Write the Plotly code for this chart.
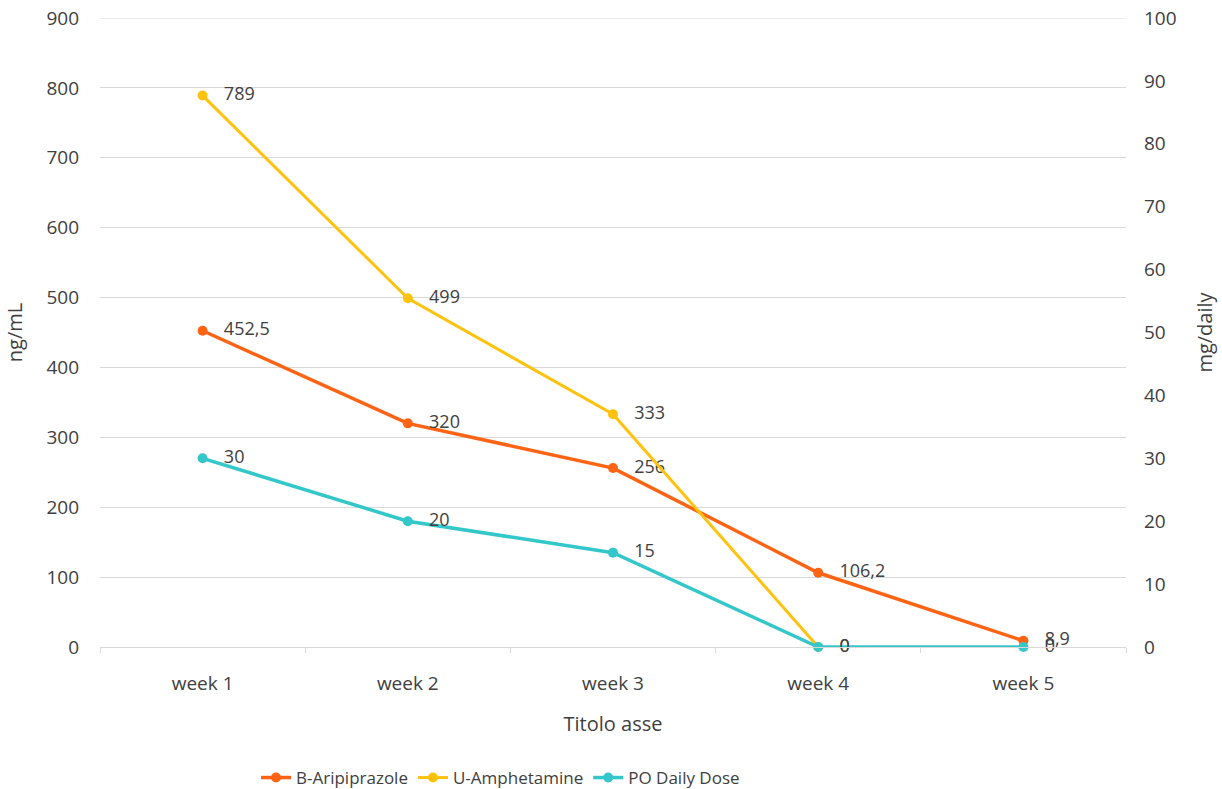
import plotly.graph_objects as go

weeks = ["week 1", "week 2", "week 3", "week 4", "week 5"]
aripiprazole = [452.5, 320, 256, 106.2, 8.9]
aripiprazole_labels = ["452,5", "320", "256", "106,2", "8,9"]
amphetamine = [789, 499, 333, 0, None]
amphetamine_labels = ["789", "499", "333", "0", ""]
po_dose = [30, 20, 15, 0, 0]
po_dose_labels = ["30", "20", "15", "0", "0"]

left_ticks = list(range(0, 901, 100))
right_ticks = list(range(0, 101, 10))

FONT = "Open Sans"
TXT = "#404040"
GRID = "#D9D9D9"
PAD = "\u00a0\u00a0\u00a0"


def pad(labels):
    return [PAD + t if t else t for t in labels]


fig = go.Figure()
fig.add_trace(go.Scatter(
    x=weeks, y=aripiprazole, name="B-Aripiprazole", mode="lines+markers+text",
    text=pad(aripiprazole_labels), textposition="middle right",
    textfont=dict(family=FONT, size=18, color=TXT),
    line=dict(color="#FF6414", width=3.5), marker=dict(size=10, color="#FF6414"),
    yaxis="y", cliponaxis=False))
fig.add_trace(go.Scatter(
    x=weeks, y=amphetamine, name="U-Amphetamine", mode="lines+markers+text",
    text=pad(amphetamine_labels), textposition="middle right",
    textfont=dict(family=FONT, size=18, color=TXT),
    line=dict(color="#FFC20E", width=3), marker=dict(size=10, color="#FFC20E"),
    yaxis="y", cliponaxis=False))
fig.add_trace(go.Scatter(
    x=weeks, y=po_dose, name="PO Daily Dose", mode="lines+markers+text",
    text=pad(po_dose_labels), textposition="middle right",
    textfont=dict(family=FONT, size=18, color=TXT),
    line=dict(color="#33C7C9", width=3.5), marker=dict(size=10, color="#33C7C9"),
    yaxis="y2", cliponaxis=False))

# top gridline (Plotly omits gridlines at the range ends)
fig.add_shape(type="line", xref="paper", x0=0, x1=1, yref="y",
              y0=left_ticks[-1], y1=left_ticks[-1],
              line=dict(color=GRID, width=1), layer="below")

fig.update_layout(
    width=1222, height=789,
    margin=dict(l=100, r=96, t=18, b=142),
    paper_bgcolor="white", plot_bgcolor="white",
    font=dict(family=FONT, size=16, color=TXT),
    showlegend=True,
    legend=dict(orientation="h", x=256 / 1222, xanchor="left", xref="container",
                y=1 - 778 / 789, yanchor="middle", yref="container",
                font=dict(family=FONT, size=17, color=TXT),
                traceorder="normal"),
    xaxis=dict(type="category", categoryorder="array", categoryarray=weeks,
               showgrid=False, showline=True, linecolor=GRID, linewidth=1,
               ticks="outside", tickson="boundaries", ticklen=5, tickcolor=GRID,
               tickfont=dict(family=FONT, size=19, color=TXT), automargin=False,
               ticklabelstandoff=19,
               title=dict(text="Titolo asse", font=dict(family=FONT, size=20, color=TXT), standoff=22),
               range=[-0.5, 4.5]),
    yaxis=dict(range=[0, 900], tickvals=left_ticks, showgrid=True, gridcolor=GRID,
               zeroline=False, showline=False, automargin=False,
               tickfont=dict(family=FONT, size=19, color=TXT), ticklabelstandoff=20,
               title=dict(text="ng/mL", font=dict(family=FONT, size=20, color=TXT), standoff=18)),
    yaxis2=dict(range=[0, 100], tickvals=right_ticks, overlaying="y", side="right",
                showgrid=False, zeroline=False, showline=False, automargin=False,
                tickfont=dict(family=FONT, size=19, color=TXT), ticklabelstandoff=17,
                title=dict(text="mg/daily", font=dict(family=FONT, size=20, color=TXT), standoff=22)),
)

fig.write_html("out.html", config={"displayModeBar": False},
               post_script="document.body.style.margin='0';")
